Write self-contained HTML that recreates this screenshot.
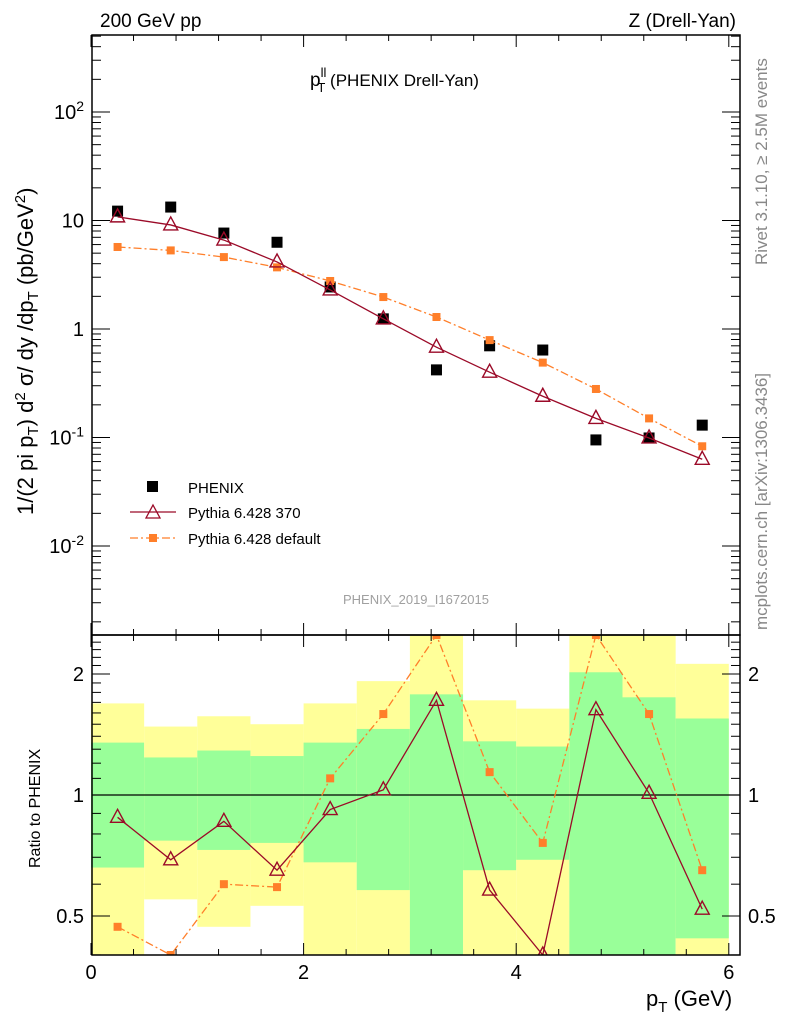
<!DOCTYPE html>
<html><head><meta charset="utf-8"><style>
body{margin:0;background:#fff;}
svg{font-family:"Liberation Sans",sans-serif;}
</style></head><body>
<svg id="c" width="786" height="1024" viewBox="0 0 786 1024" xmlns="http://www.w3.org/2000/svg">
<g id="bands"></g>
<g id="marks"></g>
<g id="axes"></g>
<text x="100" y="27" font-size="19">200 GeV pp</text>
<text x="736" y="27" font-size="19" text-anchor="end">Z (Drell-Yan)</text>
<text x="310" y="86" font-size="19">p<tspan font-size="13" dy="-9">ll</tspan><tspan font-size="13" dx="-9" dy="15">T</tspan><tspan dy="-6" font-size="17"> (PHENIX Drell-Yan)</tspan></text>
<text x="416" y="604" font-size="13" fill="#a0a0a0" text-anchor="middle">PHENIX_2019_I1672015</text>
<text transform="translate(767,265) rotate(-90)" font-size="17" fill="#888">Rivet 3.1.10, ≥ 2.5M events</text>
<text transform="translate(767,630) rotate(-90)" font-size="17" fill="#888">mcplots.cern.ch [arXiv:1306.3436]</text>
<text transform="translate(33,515) rotate(-90)" font-size="22">1/(2 pi p<tspan font-size="15" dy="5">T</tspan><tspan dy="-5">) d</tspan><tspan font-size="15" dy="-8">2</tspan><tspan dy="8"> σ/ dy /dp</tspan><tspan font-size="15" dy="5">T</tspan><tspan dy="-5"> (pb/GeV</tspan><tspan font-size="15" dy="-8">2</tspan><tspan dy="8">)</tspan></text>
<text transform="translate(40,868) rotate(-90)" font-size="16">Ratio to PHENIX</text>
<text x="646" y="1006" font-size="22">p<tspan font-size="15" dy="6">T</tspan><tspan dy="-6"> (GeV)</tspan></text>
<g>
<rect x="147" y="481" width="11" height="11" fill="#000"/>
<text x="188" y="493" font-size="15">PHENIX</text>
<line x1="130" y1="512" x2="176" y2="512" stroke="#9b0a28" stroke-width="1.3"/>
<polygon points="153,505 160,518 146,518" fill="none" stroke="#9b0a28" stroke-width="1.3"/>
<text x="188" y="518" font-size="15">Pythia 6.428 370</text>
<line x1="130" y1="538" x2="176" y2="538" stroke="#ff7f2a" stroke-width="1.3" stroke-dasharray="8,3,2,3"/>
<rect x="149" y="534" width="8" height="8" fill="#ff7f2a"/>
<text x="188" y="544" font-size="15">Pythia 6.428 default</text>
</g>
</svg>
<script>
const xCenters=[0.25,0.75,1.25,1.75,2.25,2.75,3.25,3.75,4.25,4.75,5.25,5.75];
const phenix=[12.2,13.3,7.66,6.3,2.44,1.24,0.42,0.70,0.64,0.095,0.099,0.13];
const py370=[10.8,9.1,6.6,4.15,2.29,1.24,0.68,0.40,0.24,0.15,0.099,0.063];
const pyDef=[5.7,5.3,4.6,3.7,2.77,1.97,1.29,0.79,0.49,0.28,0.15,0.083];
const ratio370=[0.88,0.69,0.86,0.65,0.92,1.03,1.72,0.58,0.30,1.63,1.01,0.52];
const ratioDef=[0.47,0.38,0.60,0.59,1.10,1.59,2.9,1.14,0.76,2.9,1.59,0.65];
const band1Hi=[1.35,1.24,1.29,1.25,1.35,1.46,1.78,1.36,1.32,2.02,1.75,1.55];
const band1Lo=[0.66,0.77,0.73,0.76,0.68,0.58,0.3,0.65,0.69,0.3,0.3,0.44];
const band2Hi=[1.69,1.48,1.57,1.50,1.69,1.92,3,1.72,1.64,3,3,2.12];
const band2Lo=[0.3,0.55,0.47,0.53,0.3,0.3,0.3,0.3,0.3,0.3,0.3,0.3];
const xTicks=[0,2,4,6];
const NS="http://www.w3.org/2000/svg";
const L=92,R=740,T=35,MB=635,RB=955;
const X=v=>91+v*106.3;
const Y=v=>329-108.5*Math.log10(v);
const YR=v=>Math.min(RB,Math.max(MB,795-121*Math.log2(v)));
function el(p,t,a){const e=document.createElementNS(NS,t);for(const k in a)e.setAttribute(k,a[k]);p.appendChild(e);return e;}
const bands=document.getElementById('bands'),marks=document.getElementById('marks'),axes=document.getElementById('axes');
xCenters.forEach((c,i)=>{
  const x0=X(c-0.25),x1=Math.min(X(c+0.25),R);
  let r=el(bands,'rect',{x:x0,y:YR(band2Hi[i]),width:x1-x0,height:YR(band2Lo[i])-YR(band2Hi[i]),fill:'#ffff99'});
  
  
  r=el(bands,'rect',{x:x0,y:YR(band1Hi[i]),width:x1-x0,height:YR(band1Lo[i])-YR(band1Hi[i]),fill:'#99ff99'});
  
  
});
const defs=el(document.getElementById('c'),'defs',{});
const cp=el(defs,'clipPath',{id:'rc'});el(cp,'rect',{x:L,y:MB,width:R-L,height:RB-MB});
el(marks,'line',{x1:L,x2:R,y1:YR(1),y2:YR(1),stroke:'#000','stroke-width':1.2});
function series(vals,fy,color,dash,marker,clip){
  const g=el(marks,'g',clip?{'clip-path':'url(#rc)'}:{});
  const pts=xCenters.map((c,i)=>X(c)+','+fy(vals[i])).join(' ');
  el(g,'polyline',{points:pts,fill:'none',stroke:color,'stroke-width':1.3,'stroke-dasharray':dash||'none'});
  xCenters.forEach((c,i)=>{
    const x=X(c),y=fy(vals[i]);let m;
    if(marker==='tri') m=el(g,'polygon',{points:`${x},${y-8} ${x+7},${y+5} ${x-7},${y+5}`,fill:'none',stroke:color,'stroke-width':1.4});
    else m=el(g,'rect',{x:x-4,y:y-4,width:8,height:8,fill:color});
    
    
  });
}
xCenters.forEach((c,i)=>{const m=el(marks,'rect',{x:X(c)-5.5,y:Y(phenix[i])-5.5,width:11,height:11,fill:'#000'});
  
  });
series(pyDef,Y,'#ff7f2a','8,3,2,3','sq',false);
series(py370,Y,'#9b0a28',null,'tri',false);
series(ratioDef,YR,'#ff7f2a','8,3,2,3','sq',true);
series(ratio370,YR,'#9b0a28',null,'tri',true);
el(axes,'rect',{x:L,y:T,width:R-L,height:MB-T,fill:'none',stroke:'#000','stroke-width':1.5});
el(axes,'rect',{x:L,y:MB,width:R-L,height:RB-MB,fill:'none',stroke:'#000','stroke-width':1.5});
for(let v=0;v<=6.01;v+=0.4){const x=X(v);const maj=Math.abs(v/2-Math.round(v/2))<0.01;const len=maj?12:6;
  [[MB,MB-len],[T,T+len],[MB,MB+len],[RB,RB-len]].forEach(p=>el(axes,'line',{x1:x,x2:x,y1:p[0],y2:p[1],stroke:'#000','stroke-width':1}));}
xTicks.forEach(v=>{const t=el(axes,'text',{x:X(v),y:979,'font-size':20,'text-anchor':'middle'});t.textContent=v;
  
  });
for(let e=-3;e<=2;e++)for(let k=1;k<10;k++){const v=k*Math.pow(10,e);const y=Y(v);if(y<T||y>MB)continue;const len=k===1?18:9;
  el(axes,'line',{x1:L,x2:L+len,y1:y,y2:y,stroke:'#000'});el(axes,'line',{x1:R,x2:R-len,y1:y,y2:y,stroke:'#000'});}
const yExp=[2,1,0,-1,-2];
yExp.forEach(e=>{const t=el(axes,'text',{x:84,y:Y(Math.pow(10,e))+7,'font-size':20,'text-anchor':'end'});
  if(e===0||e===1)t.textContent=(e===0?'1':'10');else{t.textContent='10';const s=el(t,'tspan',{'font-size':14,dy:-8});s.textContent=e;}
  
  });
[0.4,0.5,0.6,0.7,0.8,0.9,1,1.1,1.2,1.3,1.4,1.5,1.6,1.7,1.8,1.9,2,2.1,2.2,2.3,2.4].forEach(v=>{const y=795-121*Math.log2(v);const maj=(v===0.5||v===1||v===2);const len=maj?18:9;
  el(axes,'line',{x1:L,x2:L+len,y1:y,y2:y,stroke:'#000'});el(axes,'line',{x1:R,x2:R-len,y1:y,y2:y,stroke:'#000'});});
[[2,'2'],[1,'1'],[0.5,'0.5']].forEach(([v,s])=>{const y=795-121*Math.log2(v)+7;
  let t=el(axes,'text',{x:84,y:y,'font-size':20,'text-anchor':'end'});t.textContent=s;
  
  
  t=el(axes,'text',{x:748,y:y,'font-size':20});t.textContent=s;
  
  });
</script>
</body></html>
